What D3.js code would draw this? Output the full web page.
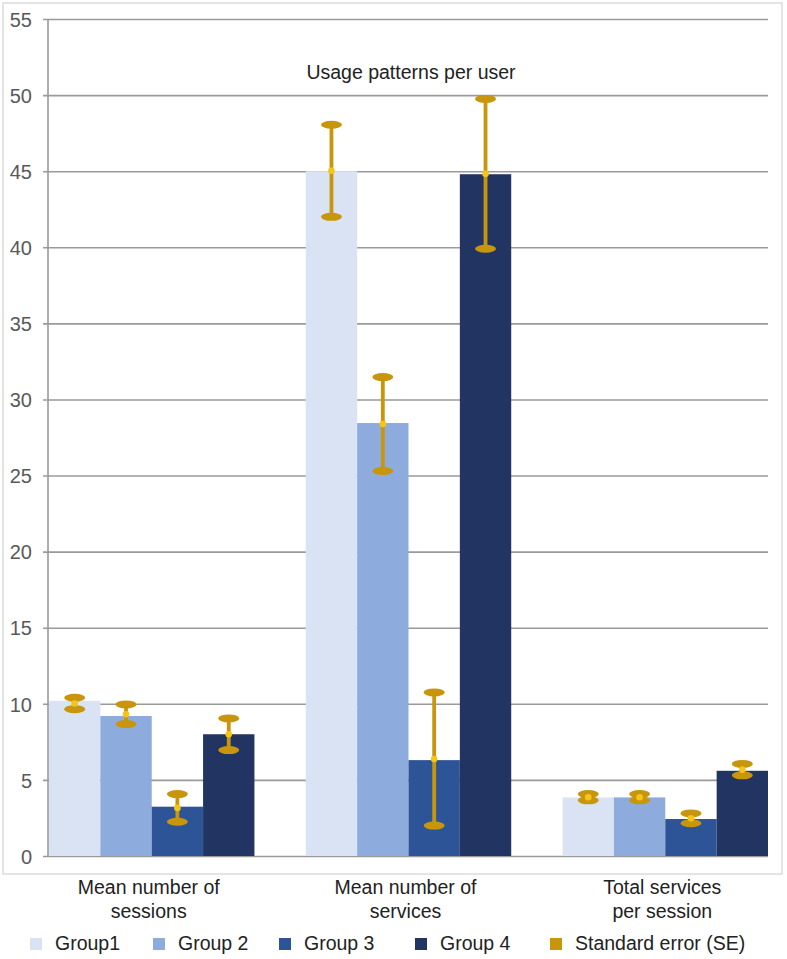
<!DOCTYPE html>
<html>
<head>
<meta charset="utf-8">
<script src="https://cdn.jsdelivr.net/npm/d3@7"></script>
<style>
  body { margin: 0; background: #fff; }
  text { font-family: "Liberation Sans", Arial, sans-serif; }
</style>
</head>
<body>
<div id="chart"></div>
<script>
var categories = [["Mean number of", "sessions"], ["Mean number of", "services"], ["Total services", "per session"]];
var groups = ["Group1", "Group 2", "Group 3", "Group 4"];
var groupColors = ["#dae3f3", "#8eabdd", "#2d5496", "#223562"];
var yTicks = [0, 5, 10, 15, 20, 25, 30, 35, 40, 45, 50, 55];

// bar values per group, across the three categories
var group1 = [10.2, 45.0, 3.85];
var group2 = [9.2, 28.45, 3.85];
var group3 = [3.24, 6.3, 2.43];
var group4 = [8.0, 44.8, 5.6];

// standard error bar ends (low / high)
var seLow1 = [9.65, 42.0, 3.66];
var seHigh1 = [10.4, 48.05, 4.07];
var seLow2 = [8.67, 25.3, 3.66];
var seHigh2 = [9.96, 31.47, 4.07];
var seLow3 = [2.25, 2.0, 2.15];
var seHigh3 = [4.07, 10.75, 2.8];
var seLow4 = [6.96, 39.9, 5.3];
var seHigh4 = [9.04, 49.75, 6.05];

var values = [group1, group2, group3, group4];
var lows = [seLow1, seLow2, seLow3, seLow4];
var highs = [seHigh1, seHigh2, seHigh3, seHigh4];

var W = 787, H = 959;
var seColor = "#c8960c", dotColor = "#f5c518";

var svg = d3.select("#chart").append("svg")
    .attr("width", W)
    .attr("height", H);

// outer frame of the plot
svg.append("rect")
    .attr("x", 3).attr("y", 3)
    .attr("width", 779).attr("height", 871)
    .attr("fill", "none")
    .attr("stroke", "#dcdcdc")
    .attr("stroke-width", 1.5);

var y = d3.scaleLinear().domain([0, 55]).range([856, 19]);
var x0 = d3.scaleBand()
    .domain(d3.range(categories.length))
    .range([49, 768])
    .paddingInner(0.2)
    .paddingOuter(0);
var x1 = d3.scaleBand()
    .domain(d3.range(groups.length))
    .range([0, x0.bandwidth()]);

// gridlines and y axis labels
var yAxis = d3.axisLeft(y)
    .tickValues(yTicks)
    .tickSize(-(768 - 43))
    .tickPadding(11)
    .tickFormat(d3.format("d"));

var gy = svg.append("g")
    .attr("transform", "translate(43,0)")
    .call(yAxis);
gy.select(".domain").remove();
gy.selectAll(".tick line")
    .attr("stroke", "#9a9a9a")
    .attr("stroke-width", 1.6);
gy.selectAll(".tick text")
    .attr("fill", "#595959")
    .attr("font-size", 20)
    .attr("dy", "0.36em");

svg.append("line")
    .attr("x1", 48).attr("x2", 48)
    .attr("y1", y(55)).attr("y2", y(0))
    .attr("stroke", "#9a9a9a")
    .attr("stroke-width", 1.6);

// bars
var catG = svg.selectAll(".cat")
    .data(categories)
    .enter().append("g")
    .attr("class", "cat")
    .attr("transform", function(d, i) { return "translate(" + x0(i) + ",0)"; });

catG.each(function(c, ci) {
    var g = d3.select(this);
    groups.forEach(function(name, gi) {
        g.append("rect")
            .attr("x", x1(gi))
            .attr("y", y(values[gi][ci]))
            .attr("width", x1.bandwidth())
            .attr("height", y(0) - y(values[gi][ci]))
            .attr("fill", groupColors[gi]);
    });
});

// error bars
catG.each(function(c, ci) {
    var g = d3.select(this);
    groups.forEach(function(name, gi) {
        var cx = x1(gi) + x1.bandwidth() / 2;
        var lo = lows[gi][ci], hi = highs[gi][ci];
        g.append("line")
            .attr("x1", cx).attr("x2", cx)
            .attr("y1", y(hi)).attr("y2", y(lo))
            .attr("stroke", seColor)
            .attr("stroke-width", 3.8);
        [lo, hi].forEach(function(v) {
            g.append("ellipse")
                .attr("cx", cx).attr("cy", y(v))
                .attr("rx", 10.5).attr("ry", 4)
                .attr("fill", seColor);
        });
        g.append("circle")
            .attr("cx", cx).attr("cy", y((lo + hi) / 2))
            .attr("r", 3.3)
            .attr("fill", dotColor);
    });
});

// title
svg.append("text")
    .attr("x", 411)
    .attr("y", 79)
    .attr("text-anchor", "middle")
    .attr("font-size", 19.5)
    .attr("fill", "#222")
    .text("Usage patterns per user");

// category labels
catG.append("text")
    .attr("x", x0.bandwidth() / 2)
    .attr("y", 894)
    .attr("text-anchor", "middle")
    .attr("font-size", 19.5)
    .attr("fill", "#222")
    .selectAll("tspan")
    .data(function(d) { return d; })
    .enter().append("tspan")
    .attr("x", x0.bandwidth() / 2 - 3)
    .attr("dy", function(d, i) { return i ? 24 : 0; })
    .text(function(d) { return d; });

// legend
var legendItems = groups.concat(["Standard error (SE)"]);
var legendColors = groupColors.concat([seColor]);
var legendX = [30, 153, 279, 415, 550];
var legend = svg.append("g");
legendItems.forEach(function(name, i) {
    legend.append("rect")
        .attr("x", legendX[i]).attr("y", 938)
        .attr("width", 12).attr("height", 12)
        .attr("fill", legendColors[i]);
    legend.append("text")
        .attr("x", legendX[i] + 25)
        .attr("y", 950)
        .attr("font-size", 19.5)
        .attr("fill", "#222")
        .text(name);
});
</script>
</body>
</html>
